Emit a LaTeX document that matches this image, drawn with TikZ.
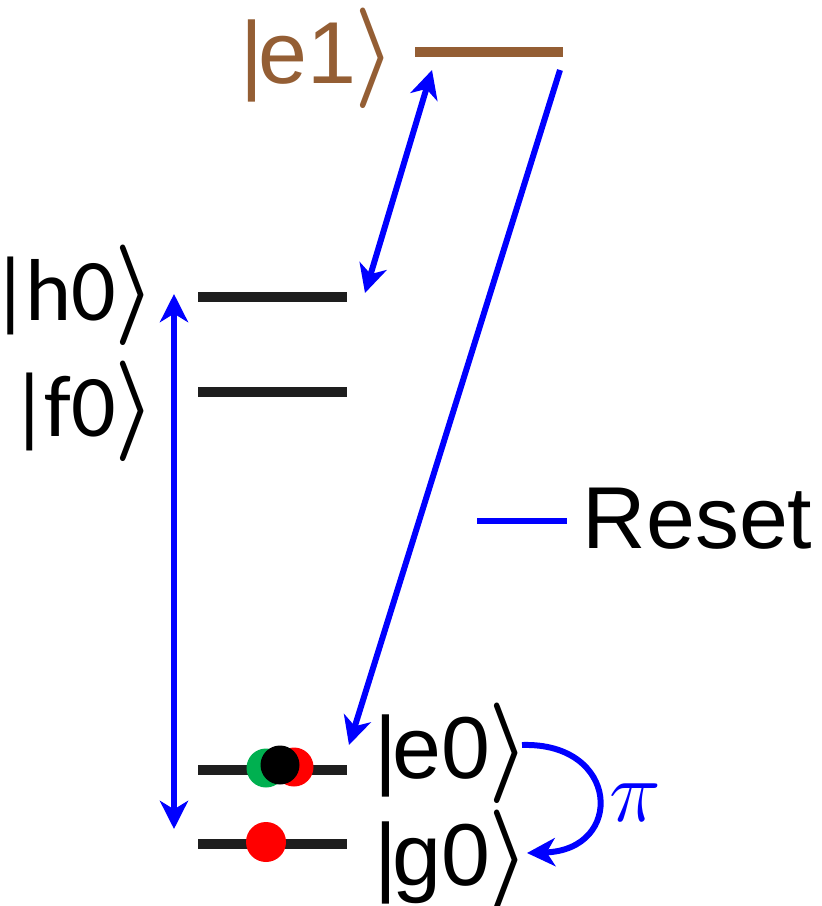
\documentclass[tikz,border=0pt]{standalone}
\usepackage{fontspec}
\usepackage{graphicx}
\setmainfont{Liberation Sans}
\newfontfamily\calfont{Carlito}
\definecolor{levelbrown}{RGB}{148, 94, 52}
\definecolor{levelgray}{RGB}{30, 30, 30}
\definecolor{dotgreen}{RGB}{0, 176, 80}
\usepackage{tikz}
\usetikzlibrary{arrows.meta, positioning, calc}
\newcommand{\statelbl}[1]{|\kern-0.06em#1\kern-0.02em\scalebox{1.05}[1.15]{\boldmath$\rangle$}}

\begin{document}
\begin{tikzpicture}[x=0.01cm, y=-0.01cm,
    >={Stealth[length=8pt, width=8pt, inset=2.4pt]},
    level/.style={draw=levelgray, line width=3.1pt},
    lbl/.style={inner sep=0pt, font=\fontsize{25}{30}\selectfont},
    trans/.style={draw=blue, line width=1.7pt, ->}]
  \useasboundingbox (0,0) rectangle (821,906);

  % energy levels
  \draw[level, draw=levelbrown] (415,52) coordinate (e1L) -- (563,52) coordinate (e1R);
  \draw[level] (198,297) coordinate (h0L) -- (347,297) coordinate (h0R);
  \draw[level] (198,392) coordinate (f0L) -- (347,392) coordinate (f0R);
  \draw[level] (198,770) coordinate (e0L) -- (347,770) coordinate (e0R);
  \draw[level] (198,844) coordinate (g0L) -- (347,844) coordinate (g0R);

  % state labels
  \node[lbl, text=levelbrown, anchor=base east] (e1) at (396,83) {\statelbl{e1}};
  \node[lbl, anchor=base east] (h0) at (156,320) {\calfont\statelbl{h0}};
  \node[lbl, anchor=base east] (f0) at (156,436) {\calfont\statelbl{f0}};
  \node[lbl, anchor=base west] (e0) at (374,778) {\statelbl{e0}};
  \node[lbl, anchor=base west] (g0) at (374,885) {\statelbl{g0}};

  % populations
  \fill[dotgreen] (266,768) circle (19.5);
  \fill[red] (294,767) circle (19.5);
  \fill[black] (280,765) circle (19.5);
  \fill[red] (266,842) circle (20);

  % transitions
  \coordinate (vtop) at (174,294);
  \coordinate (vbot) at (174,829);
  \draw[trans, <->] (vtop) -- (vbot);
  \coordinate (dtop) at (432,70);
  \coordinate (dbot) at (365,293);
  \draw[trans, <->] (dtop) -- (dbot);
  \coordinate (rstart) at (560,70);
  \coordinate (rend) at (349,745);
  \draw[trans] (rstart) -- (rend);
  \coordinate (pistart) at (522,745);
  \coordinate (piend) at (527,853);
  \draw[trans] (pistart) .. controls (620,742) and (625,850) .. (piend);
  \node[lbl, text=blue] (pi) at (635,803) {$\pi$};

  % legend
  \coordinate (legL) at (477,521);
  \coordinate (legR) at (567,521);
  \node[lbl, anchor=west] (reset) at (582,519) {Reset};
  \draw[blue, line width=1.7pt] (legL) -- (legR);
\end{tikzpicture}
\end{document}
